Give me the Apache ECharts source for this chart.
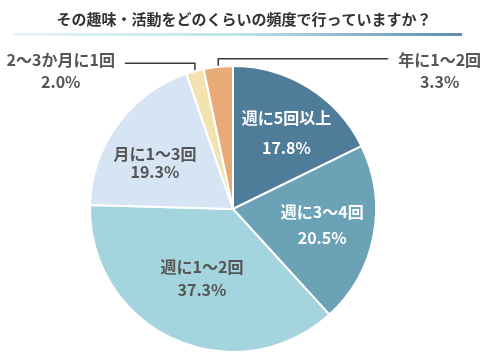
<!DOCTYPE html>
<html><head><meta charset="utf-8">
<script src="https://cdn.jsdelivr.net/npm/echarts@6/dist/echarts.min.js"></script>
<style>html,body{margin:0;padding:0;background:#fff}#c{width:488px;height:363px}</style>
</head><body><div id="c"></div>
<script>
const titleText = 'その趣味・活動をどのくらいの頻度で行っていますか？';
const categories = ['週に5回以上', '週に3〜4回', '週に1〜2回', '月に1〜3回', '2〜3か月に1回', '年に1〜2回'];
const values = [17.8, 20.5, 37.3, 19.3, 2.0, 3.3];

const colors = ['#4e7c99', '#6ba2b6', '#a4d5df', '#d6e4f4', '#f2e3b1', '#e8aa77'];
const labelColors = ['#ffffff', '#ffffff', '#555555', '#555555', '#555555', '#555555'];
const lineHeights = [30, 26, 23, 18, 22, 22];
const insideShift = [[14, -13], [16, 2], [0, 2], [-18, -2]];
const FONT = '"Noto Sans CJK JP", "Noto Sans", sans-serif';

const chart = echarts.init(document.getElementById('c'), null, {renderer: 'canvas'});
const data = categories.map((name, i) => {
  const outside = i >= 4;
  return {
    name, value: values[i],
    itemStyle: {color: colors[i]},
    label: {position: outside ? 'outside' : 'inside', color: labelColors[i], lineHeight: lineHeights[i]},
    labelLine: {show: outside}
  };
});

chart.setOption({
  animation: false,
  title: {
    text: titleText, left: 'center', top: 7,
    textStyle: {fontFamily: FONT, fontSize: 15, fontWeight: 'bold', color: '#333'}
  },
  graphic: [{
    type: 'rect', shape: {x: 13, y: 33, width: 449, height: 3},
    style: {fill: new echarts.graphic.LinearGradient(0, 0, 1, 0, [
      {offset: 0, color: '#e6f6fa'}, {offset: 0.5, color: '#bfe3ec'}, {offset: 1, color: '#5b8ea8'}
    ])}
  }],
  series: [{
    type: 'pie',
    center: [233, 209],
    radius: [0, 143],
    startAngle: 90,
    clockwise: true,
    avoidLabelOverlap: false,
    itemStyle: {borderColor: '#fff', borderWidth: 2},
    label: {
      fontFamily: FONT, fontSize: 16, fontWeight: 'bold', align: 'center',
      formatter: p => p.name + '\n' + p.value.toFixed(1) + '%'
    },
    labelLine: {length: 10, length2: 10, lineStyle: {color: '#3a3a3a', width: 1.5}},
    emphasis: {disabled: true},
    labelLayout: function (p) {
      const i = p.dataIndex;
      if (i >= 4) {
        const pts = p.labelLinePoints;
        const x0 = pts[0][0], y0 = pts[0][1];
        const dir = i === 4 ? -1 : 1;
        const len = i === 4 ? 70 : 170;
        const ly = y0 - 8;
        const ex = x0 + dir * len;
        const w = p.labelRect.width;
        return {
          x: ex + dir * (10 + w / 2), y: 71, align: 'center', verticalAlign: 'middle',
          labelLinePoints: [[x0, y0 + 16], [x0, ly], [ex, ly]]
        };
      }
      return {dx: insideShift[i][0], dy: insideShift[i][1]};
    },
    data
  }]
});
</script></body></html>
